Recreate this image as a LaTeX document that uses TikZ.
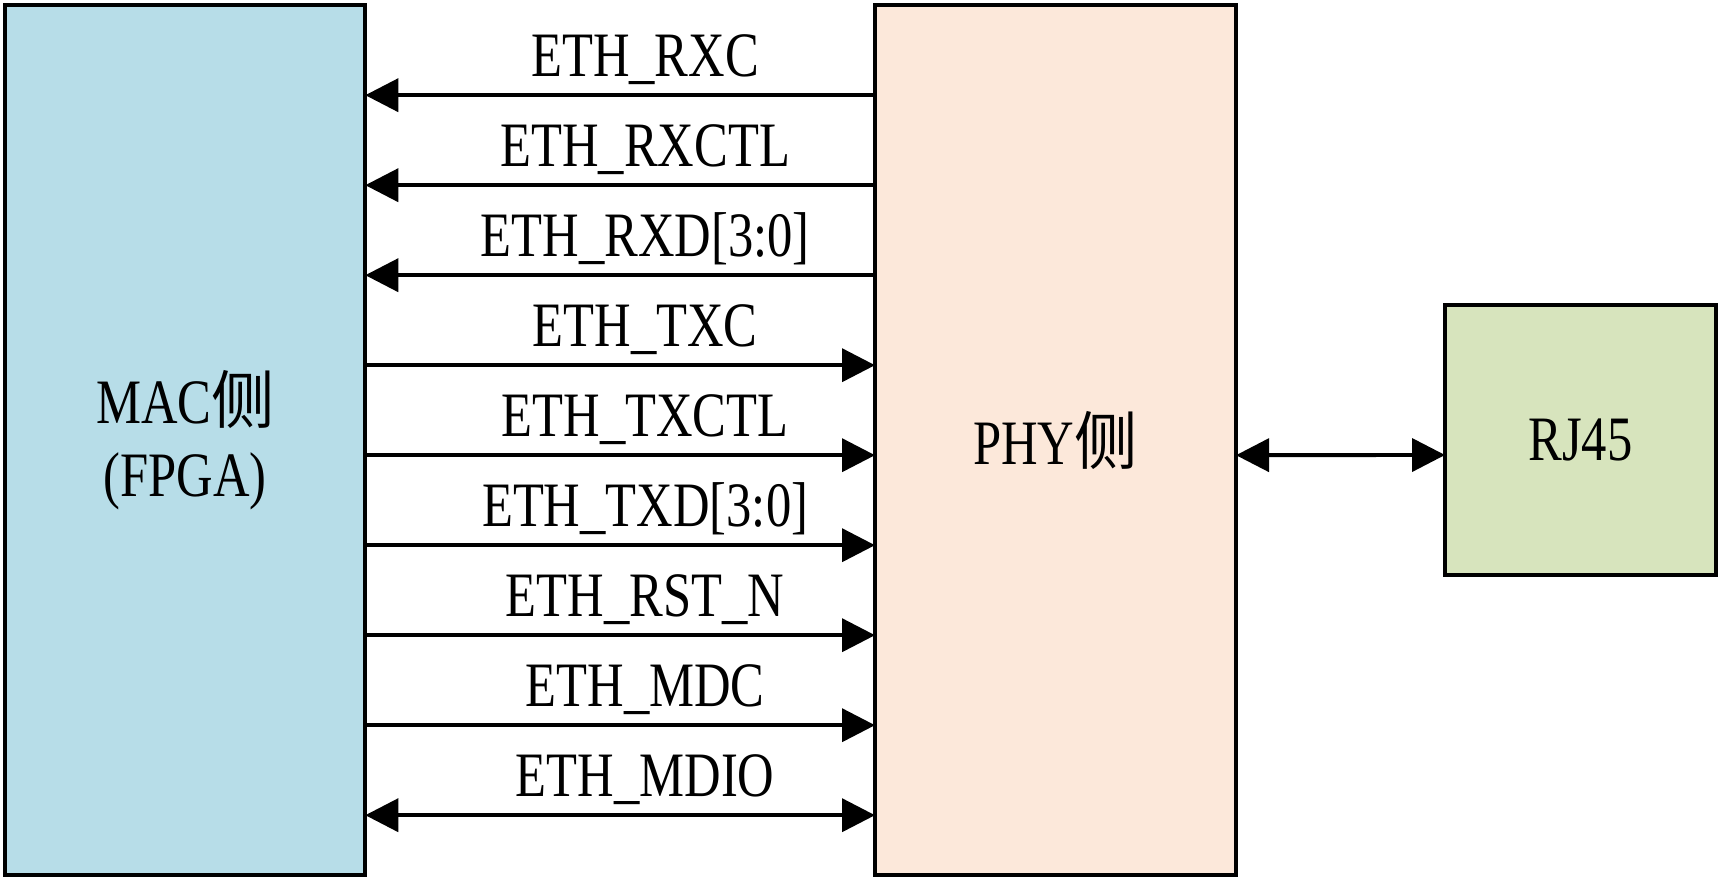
\documentclass[tikz,border=0pt]{standalone}
\usepackage{fontspec}
\setmainfont{Liberation Serif}[FakeStretch=0.8]
\newfontfamily\cjk{Noto Sans CJK SC}
\usepackage{tikz}
\usetikzlibrary{arrows.meta}
\definecolor{macfill}{HTML}{B7DDE8}
\definecolor{phyfill}{HTML}{FCE8DA}
\definecolor{rjfill}{HTML}{D7E4BD}

\begin{document}
\begin{tikzpicture}[
  box/.style={draw, line width=1.1pt, outer sep=0pt, inner sep=0pt, align=center,
    font=\fontsize{18}{20.5}\selectfont},
  sig/.style={line width=1.1pt, -{Triangle[length=0.33cm, width=0.33cm]}},
  dsig/.style={line width=1.1pt, {Triangle[length=0.33cm, width=0.33cm]}-{Triangle[length=0.33cm, width=0.33cm]}},
  lbl/.style={anchor=base, yshift=0.19cm, xshift=0.25cm, font=\fontsize{18}{20.5}\selectfont}]
  \useasboundingbox (0,0) rectangle (17.21,8.8);
  \node[box, fill=macfill, minimum width=3.6cm, minimum height=8.7cm] (mac) at (1.853,4.398) {MAC{\cjk 侧}\\(FPGA)};
  \node[box, fill=phyfill, minimum width=3.61cm, minimum height=8.7cm] (phy) at (10.555,4.398) {PHY{\cjk 侧}};
  \node[box, fill=rjfill, minimum width=2.71cm, minimum height=2.7cm] (rj) at (15.805,4.40) {RJ45};
  \draw[sig] ([yshift=-0.9cm]phy.north west) -- node[lbl]{ETH\_RXC} ([yshift=-0.9cm]mac.north east);
  \draw[sig] ([yshift=-1.8cm]phy.north west) -- node[lbl]{ETH\_RXCTL} ([yshift=-1.8cm]mac.north east);
  \draw[sig] ([yshift=-2.7cm]phy.north west) -- node[lbl]{ETH\_RXD[3:0]} ([yshift=-2.7cm]mac.north east);
  \draw[sig] ([yshift=-3.6cm]mac.north east) -- node[lbl]{ETH\_TXC} ([yshift=-3.6cm]phy.north west);
  \draw[sig] ([yshift=-4.5cm]mac.north east) -- node[lbl]{ETH\_TXCTL} ([yshift=-4.5cm]phy.north west);
  \draw[sig] ([yshift=-5.4cm]mac.north east) -- node[lbl]{ETH\_TXD[3:0]} ([yshift=-5.4cm]phy.north west);
  \draw[sig] ([yshift=-6.3cm]mac.north east) -- node[lbl]{ETH\_RST\_N} ([yshift=-6.3cm]phy.north west);
  \draw[sig] ([yshift=-7.2cm]mac.north east) -- node[lbl]{ETH\_MDC} ([yshift=-7.2cm]phy.north west);
  \draw[dsig] ([yshift=-8.1cm]mac.north east) -- node[lbl]{ETH\_MDIO} ([yshift=-8.1cm]phy.north west);
  \draw[dsig] ([yshift=-0.15cm]phy.east) -- ([yshift=-0.15cm]rj.west);
\end{tikzpicture}
\end{document}
